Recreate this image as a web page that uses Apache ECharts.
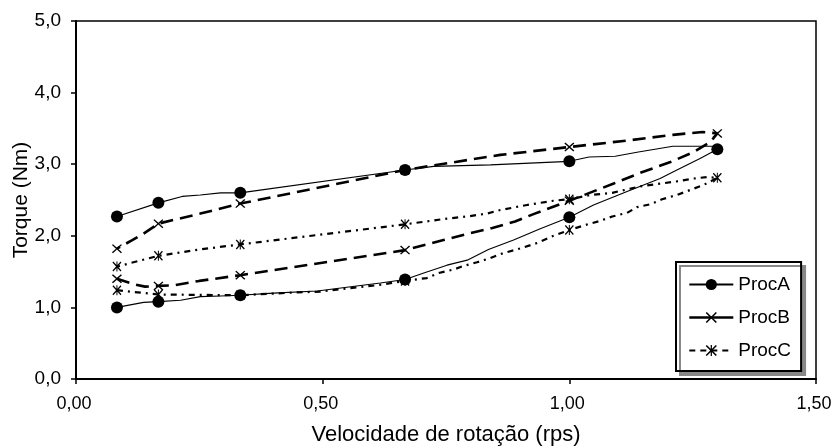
<!DOCTYPE html>
<html>
<head>
<meta charset="utf-8">
<script src="https://cdn.jsdelivr.net/npm/echarts@6/dist/echarts.min.js"></script>
<style>
  html, body { margin: 0; padding: 0; background: #fff; }
  #chart { width: 832px; height: 448px; }
</style>
</head>
<body>
<div id="chart"></div>
<script>
// Torque vs rotation speed, three procedures, each measured going up then back down.
// Each row: [speed (rps), torque (Nm), measured point? 1 = yes (draw marker), 0 = trace only]

const xTicks = [0, 0.5, 1.0, 1.5];
const yTicks = [0, 1, 2, 3, 4, 5];
const seriesNames = ['ProcA', 'ProcB', 'ProcC'];

const procA_up = [
  [0.083, 1.00, 1], [0.137, 1.07, 0], [0.167, 1.08, 1], [0.212, 1.10, 0],
  [0.252, 1.15, 0], [0.293, 1.16, 0], [0.333, 1.17, 1], [0.400, 1.20, 0],
  [0.489, 1.23, 0], [0.617, 1.34, 0], [0.667, 1.39, 1], [0.705, 1.48, 0],
  [0.752, 1.59, 0], [0.793, 1.66, 0], [0.836, 1.81, 0], [0.887, 1.94, 0],
  [0.941, 2.10, 0], [1.000, 2.26, 1], [1.049, 2.43, 0], [1.117, 2.62, 0],
  [1.184, 2.80, 0], [1.218, 2.92, 0], [1.265, 3.08, 0], [1.300, 3.21, 1]
];
const procA_down = [
  [1.300, 3.25, 0], [1.210, 3.25, 0], [1.140, 3.17, 0], [1.093, 3.11, 0],
  [1.040, 3.10, 0], [1.000, 3.04, 1], [0.840, 2.99, 0], [0.725, 2.97, 0],
  [0.667, 2.92, 1], [0.333, 2.60, 1], [0.293, 2.60, 0], [0.252, 2.57, 0],
  [0.215, 2.55, 0], [0.167, 2.46, 1], [0.083, 2.27, 1]
];

const procB_up = [
  [0.083, 1.40, 1], [0.120, 1.32, 0], [0.140, 1.29, 0], [0.167, 1.30, 1],
  [0.200, 1.31, 0], [0.250, 1.37, 0], [0.333, 1.45, 1], [0.667, 1.80, 1],
  [0.745, 1.94, 0], [0.795, 2.03, 0], [0.844, 2.11, 0], [0.890, 2.20, 0],
  [0.930, 2.31, 0], [1.000, 2.49, 1], [1.090, 2.73, 0], [1.144, 2.88, 0],
  [1.205, 3.03, 0], [1.252, 3.17, 0], [1.286, 3.31, 0], [1.300, 3.43, 1]
];
const procB_down = [
  [1.270, 3.45, 0], [1.210, 3.41, 0], [1.117, 3.33, 0], [1.000, 3.24, 1],
  [0.860, 3.13, 0], [0.667, 2.92, 1], [0.333, 2.45, 1], [0.252, 2.31, 0],
  [0.167, 2.17, 1], [0.137, 2.03, 0], [0.114, 1.94, 0], [0.083, 1.82, 1]
];

const procC_up = [
  [0.083, 1.24, 1], [0.125, 1.21, 0], [0.167, 1.18, 1], [0.333, 1.17, 1],
  [0.448, 1.21, 0], [0.495, 1.22, 0], [0.556, 1.27, 0], [0.610, 1.31, 0],
  [0.667, 1.37, 1], [0.711, 1.41, 0], [0.735, 1.48, 0], [0.766, 1.53, 0],
  [0.786, 1.58, 0], [0.813, 1.63, 0], [0.840, 1.69, 0], [0.867, 1.76, 0],
  [0.894, 1.81, 0], [0.935, 1.90, 0], [0.968, 2.00, 0], [1.000, 2.08, 1],
  [1.032, 2.15, 0], [1.063, 2.21, 0], [1.087, 2.27, 0], [1.117, 2.32, 0],
  [1.137, 2.40, 0], [1.164, 2.44, 0], [1.188, 2.51, 0], [1.218, 2.57, 0],
  [1.245, 2.64, 0], [1.272, 2.71, 0], [1.300, 2.81, 1]
];
const procC_down = [
  [1.279, 2.82, 0], [1.252, 2.80, 0], [1.218, 2.76, 0], [1.144, 2.69, 0],
  [1.087, 2.60, 0], [1.043, 2.57, 0], [1.000, 2.51, 1], [0.968, 2.49, 0],
  [0.914, 2.43, 0], [0.860, 2.36, 0], [0.833, 2.31, 0], [0.793, 2.27, 0],
  [0.752, 2.24, 0], [0.667, 2.16, 1], [0.333, 1.88, 1], [0.252, 1.81, 0],
  [0.167, 1.72, 1], [0.083, 1.57, 1]
];

// Marker shapes: a filled cross and a cross with a vertical bar (asterisk)
const crossPath = 'path://M0,1L1,0L5,4L9,0L10,1L6,5L10,9L9,10L5,6L1,10L0,9L4,5Z';
const starPath = 'path://M0,1L1,0L5,4L9,0L10,1L6,5L10,9L9,10L5,6L1,10L0,9L4,5Z' +
                 'M4.45,0L5.55,0L5.55,10L4.45,10Z';

const FONT = 'Liberation Sans, Arial, sans-serif';

function loop(up, down, shape) {
  return up.concat(down).map(function (p) {
    return { value: [p[0], p[1]], symbol: p[2] ? shape : 'none' };
  });
}

const chart = echarts.init(document.getElementById('chart'), null, { renderer: 'canvas' });

chart.setOption({
  animation: false,
  backgroundColor: '#ffffff',
  textStyle: { fontFamily: FONT, color: '#000' },
  grid: {
    left: 76, right: 16, top: 21, bottom: 69,
    outerBoundsMode: 'none', containLabel: false,
    show: true, borderColor: '#000', borderWidth: 1.5, backgroundColor: 'transparent'
  },
  xAxis: {
    type: 'value',
    min: xTicks[0], max: xTicks[xTicks.length - 1], interval: 0.5,
    name: 'Velocidade de rotação (rps)',
    nameLocation: 'middle', nameGap: 45, nameMoveOverlap: false,
    nameTextStyle: { fontSize: 22, color: '#000', fontFamily: FONT },
    axisLine: { show: true, lineStyle: { color: '#000', width: 2 } },
    axisTick: { show: true, length: 5, lineStyle: { color: '#000', width: 1.5 } },
    axisLabel: {
      fontSize: 18, color: '#000', fontFamily: FONT, margin: 16,
      padding: [0, 4, 0, 0],
      formatter: function (v) { return v.toFixed(2).replace('.', ','); }
    },
    splitLine: { show: false }
  },
  yAxis: {
    type: 'value',
    min: yTicks[0], max: yTicks[yTicks.length - 1], interval: 1,
    name: 'Torque (Nm)',
    nameLocation: 'middle', nameGap: 44, nameMoveOverlap: false,
    nameTextStyle: { fontSize: 21, color: '#000', fontFamily: FONT },
    axisLine: { show: true, lineStyle: { color: '#000', width: 2 } },
    axisTick: { show: true, length: 5, lineStyle: { color: '#000', width: 1.5 } },
    axisLabel: {
      fontSize: 19, color: '#000', fontFamily: FONT, margin: 15,
      formatter: function (v) { return v.toFixed(1).replace('.', ','); }
    },
    splitLine: { show: false }
  },
  legend: {
    orient: 'vertical',
    left: 676, top: 262,
    padding: [13, 10, 11, 12],
    itemWidth: 44, itemHeight: 14, itemGap: 14,
    backgroundColor: '#fff',
    borderColor: '#000', borderWidth: 2, borderRadius: 0,
    shadowColor: '#888', shadowBlur: 0, shadowOffsetX: 4, shadowOffsetY: 4,
    textStyle: { fontSize: 19, color: '#000', fontFamily: FONT },
    data: [
      { name: seriesNames[0] },
      { name: seriesNames[1], lineStyle: { type: 'solid', width: 2.6, color: '#000' } },
      { name: seriesNames[2], lineStyle: { type: [6, 5], width: 2.2, color: '#000' } }
    ]
  },
  series: [
    {
      name: seriesNames[2], type: 'line',
      data: loop(procC_up, procC_down, starPath),
      symbol: starPath, symbolSize: [9, 10], showAllSymbol: true,
      itemStyle: { color: '#000' },
      lineStyle: { color: '#000', width: 2.2, type: [6, 5, 2, 5] },
      z: 2
    },
    {
      name: seriesNames[1], type: 'line',
      data: loop(procB_up, procB_down, crossPath),
      symbol: crossPath, symbolSize: [10, 9], showAllSymbol: true,
      itemStyle: { color: '#000' },
      lineStyle: { color: '#000', width: 2.6, type: [13, 7] },
      z: 3
    },
    {
      name: seriesNames[0], type: 'line',
      data: loop(procA_up, procA_down, 'circle'),
      symbol: 'circle', symbolSize: 12, showAllSymbol: true,
      itemStyle: { color: '#000' },
      lineStyle: { color: '#000', width: 1.1, type: 'solid' },
      z: 4
    }
  ]
});
</script>
</body>
</html>
